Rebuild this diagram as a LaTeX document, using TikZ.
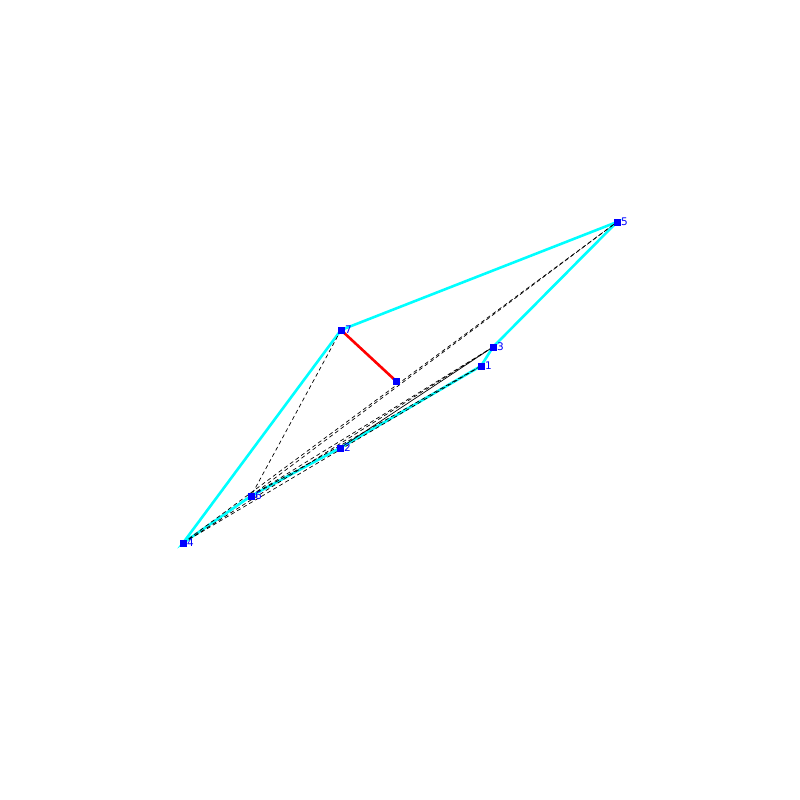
\documentclass[tikz,border=0pt]{standalone}
\usepackage{fontspec}
\setmainfont{DejaVu Sans}
\definecolor{hullcyan}{RGB}{0,255,255}
\definecolor{ptblue}{RGB}{0,0,255}
\definecolor{segred}{RGB}{255,0,0}
\begin{document}
\begin{tikzpicture}[x=1pt,y=-1pt,
  hull/.style={draw=hullcyan,line width=2.6pt},
  redseg/.style={draw=segred,line width=2.6pt},
  thinline/.style={draw=black,line width=0.7pt},
  dashline/.style={draw=black,line width=0.7pt,dash pattern=on 4pt off 3pt},
  pt/.style={fill=ptblue,minimum size=7pt,inner sep=0pt,outer sep=0pt,rectangle},
  lbl/.style={text=ptblue,font=\fontsize{10.5}{11}\selectfont,anchor=west,inner sep=0pt}]
\useasboundingbox (0,0) rectangle (800,800);
\coordinate (p1) at (481,366);
\coordinate (p2) at (340,448);
\coordinate (p3) at (493,347);
\coordinate (p4) at (183,543);
\coordinate (p5) at (617,222);
\coordinate (p6) at (251,496);
\coordinate (p7) at (341,330);
\coordinate (p8) at (396,381);
% hull
\draw[hull] (p4) -- (p7) -- (p5) -- (p3) -- (p1) -- (p2) -- (p6) -- cycle;
% black lines
\draw[thinline] (p3) -- (p2);
\draw[dashline] (p7) -- (p6);
\draw[dashline] (p4) -- (p5);
\draw[dashline] (p6) -- (p5);
\draw[dashline] (p4) -- (p3);
\draw[dashline] (p6) -- (p3);
\draw[dashline] (p4) -- (p1);
\draw[dashline] (p6) -- (p1);
% red
\draw[redseg] (p7) -- (p8);
% points
\foreach \i in {1,...,8} \node[pt] (n\i) at (p\i) {};
\foreach \i in {1,...,7} \node[lbl] (l\i) at ([xshift=4pt]p\i) {\i};
\end{tikzpicture}
\end{document}
